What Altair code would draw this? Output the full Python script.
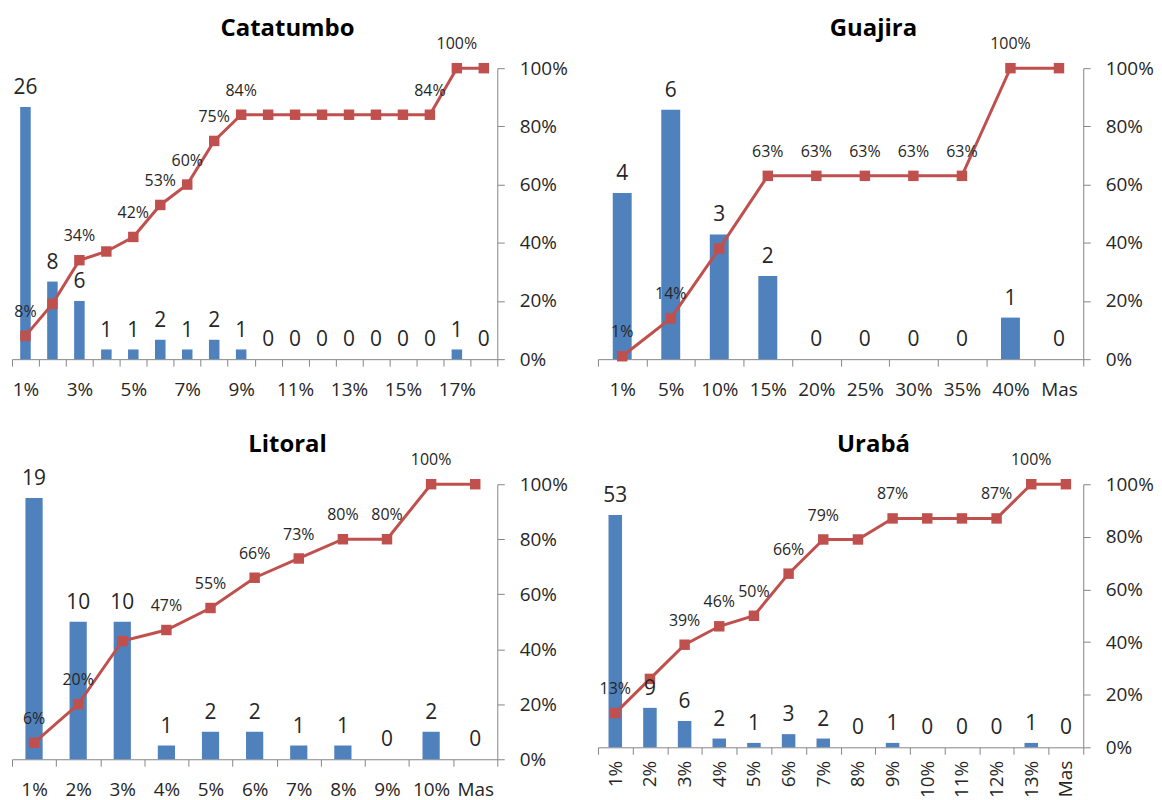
import json
import altair as alt
import pandas as pd

FONT = "Open Sans"
BLUE = "#4F81BD"
RED = "#C0504D"
AXIS = "#868686"
TXT = "#262626"

# ---------------- data ----------------
cat_title = "Catatumbo"
cat_bins = ["1%", "2%", "3%", "4%", "5%", "6%", "7%", "8%", "9%", "10%", "11%", "12%",
            "13%", "14%", "15%", "16%", "17%", "Mas"]
cat_counts = [26, 8, 6, 1, 1, 2, 1, 2, 1, 0, 0, 0, 0, 0, 0, 0, 1, 0]
cat_cum = [0.08, 0.19, 0.34, 0.37, 0.42, 0.53, 0.60, 0.75, 0.84, 0.84, 0.84, 0.84,
           0.84, 0.84, 0.84, 0.84, 1.00, 1.00]
cat_pct_labels = ["8%", "", "34%", "", "42%", "53%", "60%", "75%", "84%", "", "", "",
                  "", "", "", "84%", "100%", ""]
cat_tick_labels = ["1%", "3%", "5%", "7%", "9%", "11%", "13%", "15%", "17%"]
cat_max = 30

gua_title = "Guajira"
gua_bins = ["1%", "5%", "10%", "15%", "20%", "25%", "30%", "35%", "40%", "Mas"]
gua_counts = [4, 6, 3, 2, 0, 0, 0, 0, 1, 0]
gua_cum = [0.01, 0.14, 0.38, 0.63, 0.63, 0.63, 0.63, 0.63, 1.00, 1.00]
gua_pct_labels = ["1%", "14%", "", "63%", "63%", "63%", "63%", "63%", "100%", ""]
gua_tick_labels = gua_bins
gua_max = 7

lit_title = "Litoral"
lit_bins = ["1%", "2%", "3%", "4%", "5%", "6%", "7%", "8%", "9%", "10%", "Mas"]
lit_counts = [19, 10, 10, 1, 2, 2, 1, 1, 0, 2, 0]
lit_cum = [0.06, 0.20, 0.43, 0.47, 0.55, 0.66, 0.73, 0.80, 0.80, 1.00, 1.00]
lit_pct_labels = ["6%", "20%", "", "47%", "55%", "66%", "73%", "80%", "80%", "100%", ""]
lit_tick_labels = lit_bins
lit_max = 20

ura_title = "Urabá"
ura_bins = ["1%", "2%", "3%", "4%", "5%", "6%", "7%", "8%", "9%", "10%", "11%", "12%",
            "13%", "Mas"]
ura_counts = [53, 9, 6, 2, 1, 3, 2, 0, 1, 0, 0, 0, 1, 0]
ura_cum = [0.13, 0.26, 0.39, 0.46, 0.50, 0.66, 0.79, 0.79, 0.87, 0.87, 0.87, 0.87,
           1.00, 1.00]
ura_pct_labels = ["13%", "", "39%", "46%", "50%", "66%", "79%", "", "87%", "", "",
                  "87%", "100%", ""]
ura_tick_labels = ura_bins
ura_max = 60

pct_ticks = [0, 0.2, 0.4, 0.6, 0.8, 1.0]

PW = 487


def panel(title, bins, counts, cum, pct_labels, tick_labels, ymax, height,
          label_angle, label_pad):
    df = pd.DataFrame({
        "bin": bins,
        "n": counts,
        "cum": cum,
        "plab": pct_labels,
        "nlab": [str(c) for c in counts],
    })
    axis_kw = dict(
        title=None, tickBand="extent", tickSize=7, tickColor=AXIS, domainColor=AXIS,
        labelAngle=label_angle, labelPadding=label_pad, labelFontSize=19,
        labelColor=TXT, labelFont=FONT, labelOverlap=False,
    )
    if list(tick_labels) != list(bins):
        axis_kw["labelExpr"] = ("indexof(" + json.dumps(list(tick_labels)) +
                                ", datum.value) >= 0 ? datum.label : ''")
    x = alt.X("bin:N", sort=list(bins),
              scale=alt.Scale(paddingInner=0, paddingOuter=0),
              axis=alt.Axis(**axis_kw))
    yn = alt.Y("n:Q", scale=alt.Scale(domain=[0, ymax], nice=False, zero=True), axis=None)
    yc_axis = alt.Y("cum:Q", scale=alt.Scale(domain=[0, 1], nice=False),
                    axis=alt.Axis(orient="right", values=pct_ticks, format=".0%",
                                  title=None, tickSize=7, labelPadding=15,
                                  domainColor=AXIS, tickColor=AXIS, labelFontSize=19,
                                  labelColor=TXT, labelFont=FONT, grid=False))
    yc = alt.Y("cum:Q", scale=alt.Scale(domain=[0, 1], nice=False), axis=None)

    base = alt.Chart(df)
    bars = base.mark_bar(color=BLUE, width=alt.RelativeBandSize(0.39)).encode(x=x, y=yn)
    line = base.mark_line(color=RED, strokeWidth=3).encode(x=x, y=yc_axis)
    pts = base.mark_square(size=110, color=RED, opacity=1, filled=True).encode(x=x, y=yc)
    ntext = base.mark_text(dy=-19, fontSize=21, font=FONT, color=TXT,
                           baseline="middle").encode(x=x, y=yn, text="nlab:N")
    ptext = base.mark_text(dy=-24, fontSize=16, font=FONT, color=TXT,
                           baseline="middle").encode(x=x, y=yc, text="plab:N")
    return alt.layer(bars, line, pts, ntext, ptext).resolve_scale(
        y="independent"
    ).properties(
        width=PW, height=height,
        title=alt.TitleParams(title, fontSize=24, fontWeight="bold", font=FONT,
                              color="black", anchor="middle", frame="group",
                              offset=0, baseline="alphabetic", dx=33, dy=23.5),
    )


p1 = panel(cat_title, cat_bins, cat_counts, cat_cum, cat_pct_labels, cat_tick_labels,
           cat_max, 292, 0, 14)
p2 = panel(gua_title, gua_bins, gua_counts, gua_cum, gua_pct_labels, gua_tick_labels,
           gua_max, 292, 0, 14)
p3 = panel(lit_title, lit_bins, lit_counts, lit_cum, lit_pct_labels, lit_tick_labels,
           lit_max, 276, 0, 14)
p4 = panel(ura_title, ura_bins, ura_counts, ura_cum, ura_pct_labels, ura_tick_labels,
           ura_max, 264, 270, 6)

chart = alt.concat(
    p1, p2, p3, p4, columns=2,
    spacing=alt.RowColnumber(row=125.5, column=101),
    bounds="flush",
).properties(
    padding={"left": 3, "top": 7, "right": 0, "bottom": 0},
).configure_view(stroke=None).configure_axis(grid=False)

chart.save("out.html", embed_options={"renderer": "svg", "actions": False})
